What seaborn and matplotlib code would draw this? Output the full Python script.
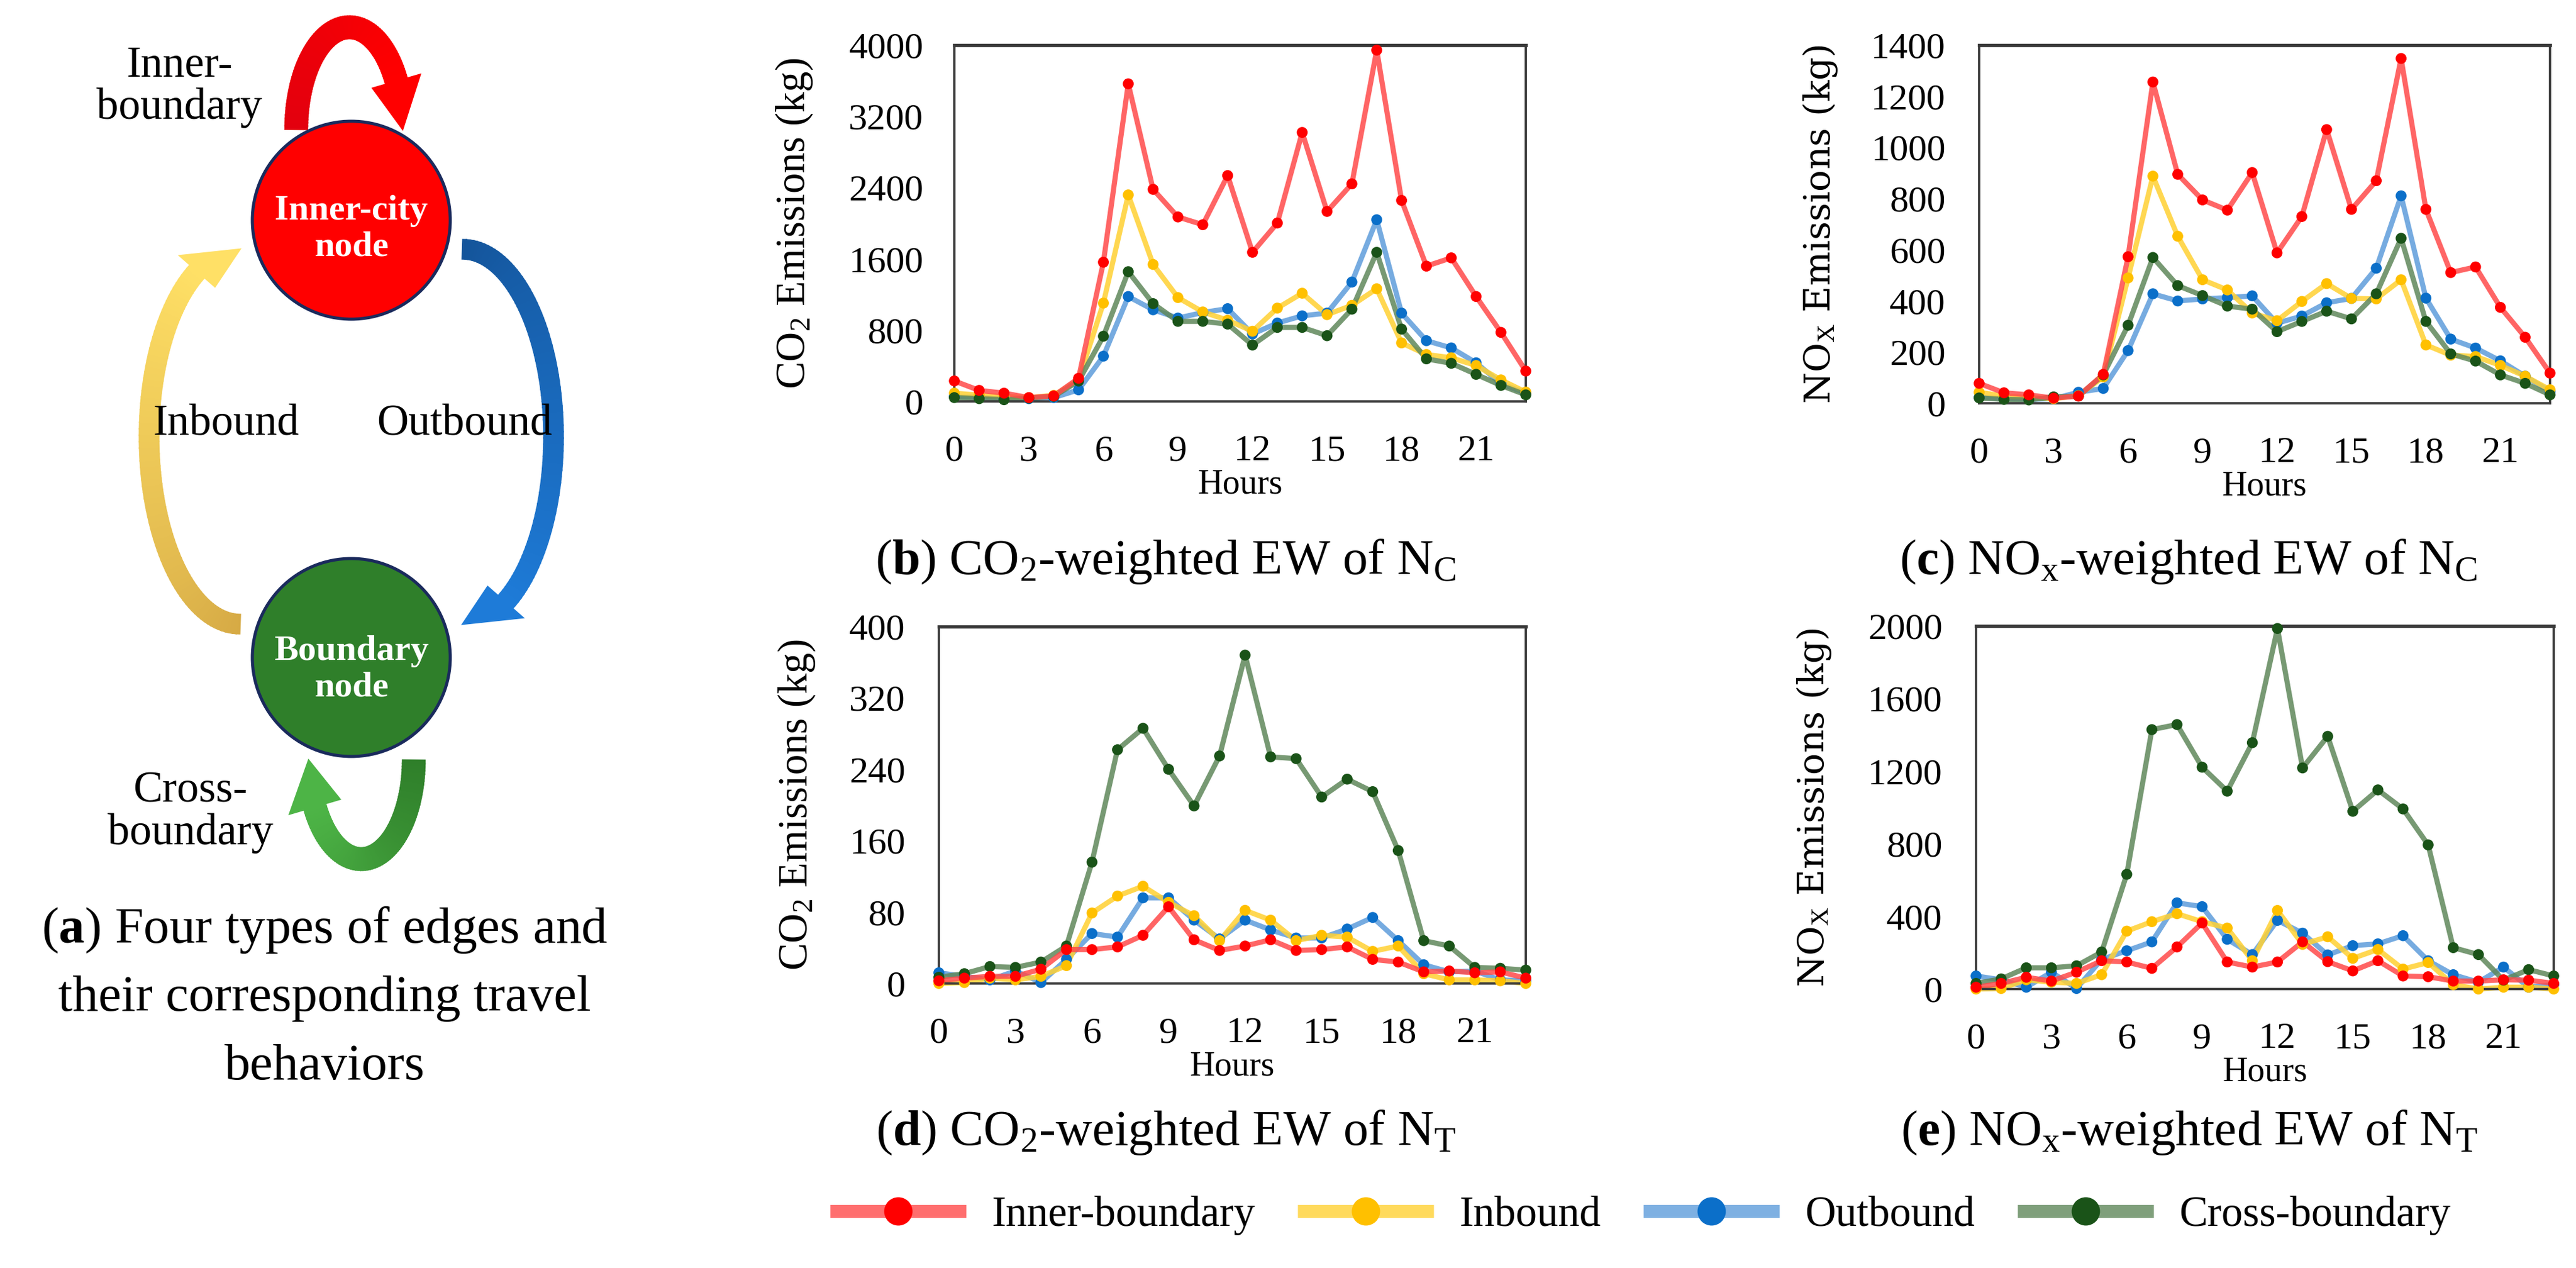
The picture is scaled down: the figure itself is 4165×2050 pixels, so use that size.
import numpy as np
import pandas as pd
import matplotlib.pyplot as plt
import seaborn as sns
from matplotlib.patches import Circle, Polygon
from matplotlib.lines import Line2D
from matplotlib.colors import to_rgb

# ============================================================
# Data
# ============================================================

HOURS = list(range(24))
EDGE_TYPES = ["Inner-boundary", "Inbound", "Outbound", "Cross-boundary"]

# (b) CO2-weighted EW of inner-city nodes (kg)
CO2_NC_INNER = [230, 124, 93, 43, 62, 260, 1563, 3566, 2381, 2071, 1984, 2536,
                1674, 2003, 3020, 2133, 2443, 3944, 2257, 1519, 1612, 1178, 775, 341]
CO2_NC_INBOUND = [93, 70, 56, 43, 68, 242, 1104, 2319, 1538, 1166, 1005, 912,
                  788, 1048, 1215, 974, 1079, 1265, 657, 527, 490, 403, 242, 105]
CO2_NC_OUTBOUND = [56, 43, 31, 31, 43, 130, 508, 1178, 1029, 936, 998, 1042,
                   757, 880, 961, 992, 1340, 2040, 992, 682, 601, 434, 198, 93]
CO2_NC_CROSS = [43, 31, 19, 37, 56, 229, 732, 1457, 1098, 899, 899, 868,
                633, 831, 831, 738, 1036, 1674, 812, 478, 428, 304, 180, 74]

# (c) NOx-weighted EW of inner-city nodes (kg)
NOX_NC_INNER = [78, 41, 33, 20, 28, 113, 573, 1256, 895, 795, 755, 902,
                588, 730, 1070, 758, 870, 1348, 758, 511, 533, 375, 258, 118]
NOX_NC_INBOUND = [43, 28, 23, 18, 30, 103, 490, 888, 653, 483, 443, 353,
                  323, 398, 468, 410, 408, 483, 228, 188, 183, 148, 106, 53]
NOX_NC_OUTBOUND = [23, 18, 15, 18, 43, 58, 206, 428, 400, 408, 413, 420,
                   313, 341, 393, 410, 528, 811, 411, 251, 216, 166, 106, 46]
NOX_NC_CROSS = [21, 15, 13, 25, 28, 111, 305, 570, 460, 421, 380, 368,
                280, 320, 360, 330, 428, 645, 320, 193, 165, 111, 78, 33]

# (d) CO2-weighted EW of boundary nodes (kg)
CO2_NT_INNER = [3, 6, 8, 8, 16, 38, 38, 41, 54, 86, 49, 37,
                42, 49, 37, 38, 41, 27, 24, 13, 14, 12, 13, 6]
CO2_NT_INBOUND = [0, 1, 6, 4, 8, 20, 79, 98, 109, 91, 76, 48,
                  82, 71, 48, 54, 52, 36, 42, 11, 4, 4, 3, 0]
CO2_NT_OUTBOUND = [12, 8, 4, 14, 1, 27, 56, 52, 96, 96, 71, 50,
                   71, 60, 51, 51, 61, 74, 48, 21, 13, 14, 4, 3]
CO2_NT_CROSS = [7, 11, 19, 18, 24, 42, 136, 262, 286, 240, 199, 255,
                368, 254, 252, 209, 229, 215, 149, 48, 42, 18, 17, 15]

# (e) NOx-weighted EW of boundary nodes (kg)
NOX_NT_INNER = [10, 31, 65, 44, 93, 156, 149, 114, 232, 364, 149, 121,
                149, 260, 151, 100, 156, 72, 68, 44, 44, 51, 49, 31]
NOX_NT_INBOUND = [0, 3, 51, 38, 31, 79, 319, 371, 415, 371, 336, 156,
                  433, 246, 288, 169, 218, 110, 146, 24, 0, 10, 10, 0]
NOX_NT_OUTBOUND = [72, 51, 10, 93, 3, 163, 211, 260, 475, 454, 274, 190,
                   378, 308, 188, 239, 249, 294, 156, 79, 38, 121, 10, 24]
NOX_NT_CROSS = [31, 56, 117, 117, 128, 204, 632, 1429, 1457, 1222, 1090, 1357,
                1986, 1218, 1392, 979, 1097, 992, 794, 228, 190, 49, 107, 72]

LINE_COLORS = {
    "Inner-boundary": "#FF4A4A",
    "Inbound": "#FFD133",
    "Outbound": "#5E9CDB",
    "Cross-boundary": "#5F875A",
}
MARKER_COLORS = {
    "Inner-boundary": "#FF0000",
    "Inbound": "#FFC000",
    "Outbound": "#0B6FC9",
    "Cross-boundary": "#1A5318",
}
DRAW_ORDER = ["Outbound", "Inbound", "Cross-boundary", "Inner-boundary"]

# ============================================================
# Style
# ============================================================

W, H = 4165, 2050
DPI = 300

sns.set_theme(style="white")
plt.rcParams.update({
    "font.family": ["Liberation Serif", "DejaVu Serif"],
    "mathtext.fontset": "custom",
    "mathtext.rm": "Liberation Serif",
    "mathtext.it": "Liberation Serif:italic",
    "mathtext.bf": "Liberation Serif:bold",
    "text.color": "black",
    "axes.labelcolor": "black",
    "xtick.color": "black",
    "ytick.color": "black",
})

fig = plt.figure(figsize=(W / DPI, H / DPI), dpi=DPI)
fig.patch.set_facecolor("white")

# overlay in pixel coordinates for the diagram and captions
ov = fig.add_axes([0, 0, 1, 1], zorder=0)
ov.set_xlim(0, W)
ov.set_ylim(H, 0)
ov.axis("off")


def long_frame(inner, inbound, outbound, cross):
    values = {
        "Inner-boundary": inner,
        "Inbound": inbound,
        "Outbound": outbound,
        "Cross-boundary": cross,
    }
    parts = []
    for edge in DRAW_ORDER:
        parts.append(pd.DataFrame({"hour": HOURS, "value": values[edge], "edge": edge}))
    return pd.concat(parts, ignore_index=True)


def draw_panel(rect, frame, yticks, ylabel, label_family, label_size, label_x, ytick_dir):
    ax = fig.add_axes(rect, zorder=2)
    ax.set_facecolor("none")

    sns.lineplot(
        data=frame, x="hour", y="value", hue="edge", hue_order=DRAW_ORDER,
        palette=LINE_COLORS, linewidth=2.0, alpha=0.85, legend=False,
        ax=ax, clip_on=False, zorder=2,
    )
    sns.scatterplot(
        data=frame, x="hour", y="value", hue="edge", hue_order=DRAW_ORDER,
        palette=MARKER_COLORS, s=18, linewidth=0, legend=False,
        ax=ax, clip_on=False, zorder=3,
    )

    ax.set_xlim(0, 23)
    ax.set_ylim(yticks[0], yticks[-1])
    ax.set_xticks(range(0, 22, 3))
    ax.set_yticks(yticks)
    ax.set_yticklabels([str(v) for v in yticks])

    ax.tick_params(axis="x", direction="in", length=6, width=0.8,
                   pad=13, labelsize=14.5)
    if ytick_dir == "out":
        ax.tick_params(axis="y", direction="out", length=6, width=0.8,
                       pad=6, labelsize=14.5)
    else:
        ax.tick_params(axis="y", direction="in", length=6, width=0.8,
                       pad=13, labelsize=14.5)

    for side in ["left", "right", "top", "bottom"]:
        ax.spines[side].set_visible(True)
        ax.spines[side].set_color("#3a3a3a")
        ax.spines[side].set_linewidth(0.9)
    ax.spines["top"].set_linewidth(1.3)

    ax.set_xlabel("Hours", fontsize=13.5, labelpad=0)
    ax.set_ylabel(ylabel, fontsize=label_size, family=label_family)
    ax.yaxis.set_label_coords(label_x, 0.5)
    return ax


def frac(x0, y0, x1, y1):
    return [x0 / W, 1 - y1 / H, (x1 - x0) / W, (y1 - y0) / H]


co2_label = r"CO$_2$ Emissions (kg)"
nox_label = r"NO$_\mathrm{X}$ Emissions (kg)"

draw_panel(frac(1543, 73, 2467, 649),
           long_frame(CO2_NC_INNER, CO2_NC_INBOUND, CO2_NC_OUTBOUND, CO2_NC_CROSS),
           [0, 800, 1600, 2400, 3200, 4000], co2_label,
           ["Liberation Serif"], 16, -0.245, "out")
draw_panel(frac(3200, 73, 4123, 652),
           long_frame(NOX_NC_INNER, NOX_NC_INBOUND, NOX_NC_OUTBOUND, NOX_NC_CROSS),
           [0, 200, 400, 600, 800, 1000, 1200, 1400], nox_label,
           ["DejaVu Serif"], 14, -0.245, "in")
draw_panel(frac(1518, 1013, 2467, 1590),
           long_frame(CO2_NT_INNER, CO2_NT_INBOUND, CO2_NT_OUTBOUND, CO2_NT_CROSS),
           [0, 80, 160, 240, 320, 400], co2_label,
           ["Liberation Serif"], 16, -0.208, "in")
draw_panel(frac(3195, 1012, 4129, 1599),
           long_frame(NOX_NT_INNER, NOX_NT_INBOUND, NOX_NT_OUTBOUND, NOX_NT_CROSS),
           [0, 400, 800, 1200, 1600, 2000], nox_label,
           ["DejaVu Serif"], 14, -0.247, "in")

# ============================================================
# Panel titles
# ============================================================

TITLE_SIZE = 19.5
ov.text(1885, 908, r"($\mathbf{b}$) CO$_2$-weighted EW of N$_\mathrm{C}$",
        ha="center", va="center", fontsize=TITLE_SIZE)
ov.text(3538, 908, r"($\mathbf{c}$) NO$_\mathrm{x}$-weighted EW of N$_\mathrm{C}$",
        ha="center", va="center", fontsize=TITLE_SIZE)
ov.text(1885, 1831, r"($\mathbf{d}$) CO$_2$-weighted EW of N$_\mathrm{T}$",
        ha="center", va="center", fontsize=TITLE_SIZE)
ov.text(3540, 1831, r"($\mathbf{e}$) NO$_\mathrm{x}$-weighted EW of N$_\mathrm{T}$",
        ha="center", va="center", fontsize=TITLE_SIZE)

# ============================================================
# Panel (a): edge-type diagram
# ============================================================


def curved_arrow(ax, center, radii, t_start, t_end, t_tip, width, head_width, colors, n=80):
    cx, cy = center
    rx, ry = radii
    t = np.radians(np.linspace(t_start, t_end, n))
    x = cx + rx * np.cos(t)
    y = cy - ry * np.sin(t)
    dx, dy = np.gradient(x), np.gradient(y)
    length = np.hypot(dx, dy)
    nx, ny = -dy / length, dx / length
    left = np.column_stack([x + nx * width / 2, y + ny * width / 2])
    right = np.column_stack([x - nx * width / 2, y - ny * width / 2])
    c0, c1 = np.array(to_rgb(colors[0])), np.array(to_rgb(colors[1]))
    for i in range(n - 1):
        f = i / (n - 2)
        col = c0 * (1 - f) + c1 * f
        ax.add_patch(Polygon([left[i], left[i + 1], right[i + 1], right[i]],
                             closed=True, facecolor=col, edgecolor=col, lw=0.6))
    tt = np.radians(t_tip)
    tip = (cx + rx * np.cos(tt), cy - ry * np.sin(tt))
    head = [(x[-1] + nx[-1] * head_width / 2, y[-1] + ny[-1] * head_width / 2),
            tip,
            (x[-1] - nx[-1] * head_width / 2, y[-1] - ny[-1] * head_width / 2)]
    ax.add_patch(Polygon(head, closed=True, facecolor=c1, edgecolor=c1, lw=0.6))


# inner-boundary loop (top)
curved_arrow(ov, (565, 209), (86, 165), 180, 28, 0, 36, 80, ("#E3000E", "#FF0000"))
# inbound (left, going up)
curved_arrow(ov, (388, 706), (147, 303), 270, 118, 90, 31, 76, ("#D6AA45", "#FFE066"))
# outbound (right, going down)
curved_arrow(ov, (748, 706), (147, 303), 90, -62, -90, 31, 76, ("#14549A", "#1E7BD8"))
# cross-boundary loop (bottom)
curved_arrow(ov, (584, 1229), (85, 160), 0, -152, -180, 36, 85, ("#2F7F2A", "#4DB446"))

ov.add_patch(Circle((568, 356), 160, facecolor="#FF0000", edgecolor="#1A2A5C", lw=1.2))
ov.add_patch(Circle((568, 1063), 160, facecolor="#2F7F2A", edgecolor="#1A2A5C", lw=1.2))

ov.text(568, 370, "Inner-city\nnode", ha="center", va="center", color="white",
        fontsize=14, fontweight="bold", linespacing=1.15)
ov.text(568, 1082, "Boundary\nnode", ha="center", va="center", color="white",
        fontsize=14, fontweight="bold", linespacing=1.15)

ov.text(290, 140, "Inner-\nboundary", ha="center", va="center", fontsize=17, linespacing=1.05)
ov.text(366, 686, "Inbound", ha="center", va="center", fontsize=17)
ov.text(751, 686, "Outbound", ha="center", va="center", fontsize=17)
ov.text(308, 1313, "Cross-\nboundary", ha="center", va="center", fontsize=17, linespacing=1.05)

CAPTION_SIZE = 20
ov.text(525, 1503, r"($\mathbf{a}$) Four types of edges and", ha="center", va="center",
        fontsize=CAPTION_SIZE)
ov.text(525, 1614, "their corresponding travel", ha="center", va="center",
        fontsize=CAPTION_SIZE)
ov.text(525, 1725, "behaviors", ha="center", va="center", fontsize=CAPTION_SIZE)

# ============================================================
# Shared legend
# ============================================================

handles = []
for edge in EDGE_TYPES:
    r, g, b = to_rgb(LINE_COLORS[edge])
    handles.append(Line2D([], [], color=(r, g, b, 0.8), lw=5, solid_capstyle="butt",
                          marker="o", markersize=11, markeredgewidth=0,
                          markerfacecolor=MARKER_COLORS[edge]))

fig.legend(handles, EDGE_TYPES, loc="center", bbox_to_anchor=(2652 / W, 1 - 1965 / H),
           ncol=4, frameon=False, fontsize=16.5, handlelength=3.2,
           handletextpad=0.6, columnspacing=1.0)

fig.savefig("out.png", dpi=DPI, facecolor="white")
